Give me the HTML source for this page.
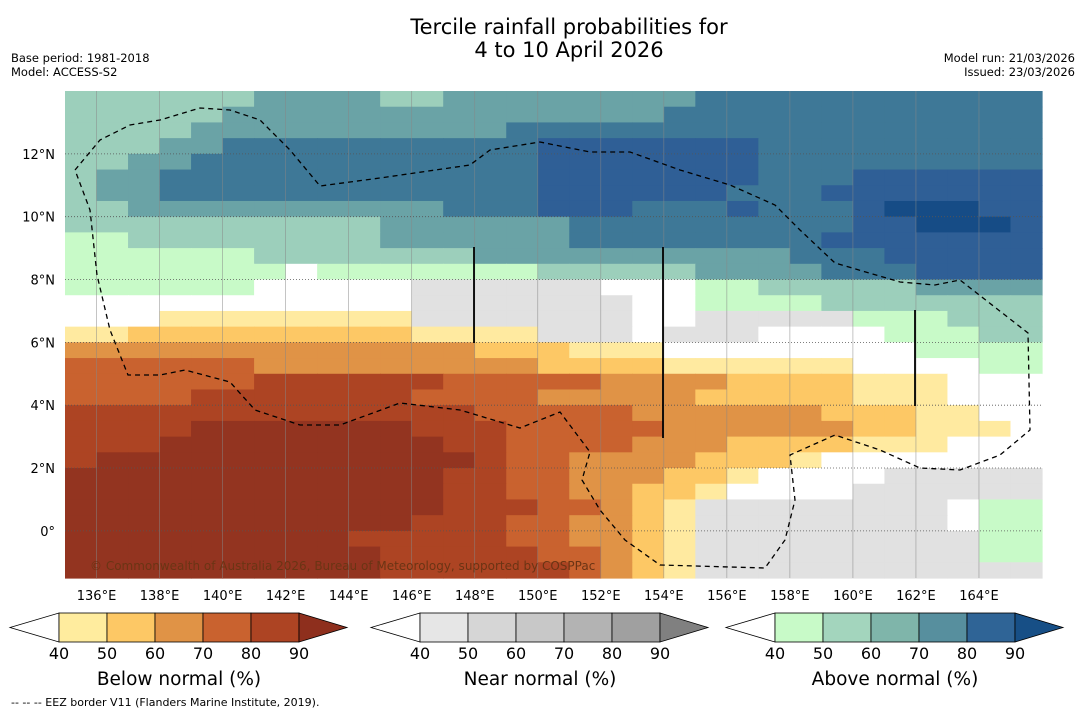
<!DOCTYPE html>
<html><head><meta charset="utf-8">
<style>
body{margin:0;background:#fff;width:1085px;height:713px;overflow:hidden;font-family:"DejaVu Sans","Liberation Sans",sans-serif;}
svg text{font-family:"DejaVu Sans","Liberation Sans",sans-serif;}
</style></head>
<body>
<svg id="chart" width="1085" height="713" xmlns="http://www.w3.org/2000/svg">
<text x="569" y="34" font-size="21" text-anchor="middle">Tercile rainfall probabilities for</text>
<text x="569" y="57" font-size="21" text-anchor="middle">4 to 10 April 2026</text>
<text x="11" y="62" font-size="11.5">Base period: 1981-2018</text>
<text x="11" y="76" font-size="11.5">Model: ACCESS-S2</text>
<text x="1075" y="62" font-size="11.5" text-anchor="end">Model run: 21/03/2026</text>
<text x="1075" y="76" font-size="11.5" text-anchor="end">Issued: 23/03/2026</text>
<g id="cells"></g>
<g id="grid"></g>
<g id="eez"></g>
<g id="axes"></g>
<text x="90" y="570" font-size="12" fill="#6b3414">© Commonwealth of Australia 2026, Bureau of Meteorology, supported by COSPPac</text>
<g id="bars"></g>
<text x="11" y="706" font-size="11">--  --  -- EEZ border V11 (Flanders Marine Institute, 2019).</text>
</svg>
<script>
const lonTicks=[136,138,140,142,144,146,148,150,152,154,156,158,160,162,164];
const latTicks=[0,2,4,6,8,10,12];
const lonStart=135, latTop=14, cellLon=1, cellLat=0.5;
const gridRows=[
"bbbbbbccccbbccccccccddddddddddd",
"bbbbbccccccccccccccdddddddddddd",
"bbbbccccccccccddddddddddddddddd",
"bbbccddddddddddeeeeeeeddddddddd",
"bbccdddddddddddeeeeeeeddddddddd",
"bccddddddddddddeeeeeeedddeeeeee",
"bccddddddddddddeeeeeedddeeeeeee",
"bbccccccccccdddeeedddedddefffee",
"bbbbbbbbbbccccccdddddddddeefffe",
"aabbbbbbbbccccccddddddddeeeeeee",
"aaaaaabbbbbbbccccccccccdddeeeee",
"aaaaaaawaaaaaaabbbbbccccdddeeee",
"aaaaaawwwwwnnnnnnwwwaabbbbbcccc",
"wwwwwwwwwwwnnnnnnnwwaaaabbbbbbb",
"wwwAAAAAAAAnnnnnnnwwnnnnnaaabbb",
"AABBBBBBBBBAAAAnnnwnnnwwwwaaabb",
"CCCCCCCCCCCCCBBBAAAwwwwwwwwaaaa",
"DDDDDDCCCCCCCCCBBBBAAAAAAwwwwaa",
"DDDDDDEEEEEEDDDDDCCCCBBBBAAAwww",
"DDDDEEEEEEEDDDDCCCCCBBBBBAAAwww",
"EEEEEEEEEEEEEDDDDDCCCCCCBBBAAww",
"EEEEFFFFFFFEEEDDDDDCCCCCCBBAAAw",
"EEEFFFFFFFFFEEDDDDCCCBBBBAAAwww",
"EFFFFFFFFFFFFEDDCCCCBBBAwwwwwww",
"FFFFFFFFFFFFEEDDCCCBBAwwwwnnnnn",
"FFFFFFFFFFFFEEDDCCBBAwwwwnnnnnn",
"FFFFFFFFFFFFEEEDDCBAnnnnnnnnwaa",
"FFFFFFFFFFFEEEDDCCBAnnnnnnnnwaa",
"FFFFFFFFFEEEEEDDCCBAnnnnnnnnnaa",
"FFFFFFFFFFEEEEEDDCBAnnnnnnnnnaa",
"FFFFFFFFFFEEEEEEDCBAnnnnnnnnnnn"
];
const belowLabels=[40,50,60,70,80,90];
const colorMap={a:"#c8fac8",b:"#9ccfbb",c:"#6aa3a6",d:"#3e7897",e:"#2f5f96",f:"#164c86",
A:"#ffeaa0",B:"#fdc865",C:"#e09346",D:"#c9622f",E:"#ad4423",F:"#933420",n:"#e1e1e1",w:"#ffffff"};
const X0=65,X1=1042,Y0=91,Y1=578,lonMin=135,lonMax=166,latMax=14,latMin=-1.5;
const xs=l=>X0+(l-lonMin)/(lonMax-lonMin)*(X1-X0);
const ys=l=>Y0+(latMax-l)/(latMax-latMin)*(Y1-Y0);
const NS="http://www.w3.org/2000/svg";
function mk(t,a,p){const e=document.createElementNS(NS,t);for(const k in a)e.setAttribute(k,a[k]);p.appendChild(e);return e;}
const cells=document.getElementById('cells');
gridRows.forEach((row,r)=>{[...row].forEach((ch,c)=>{
 const lo=lonStart+c*cellLon, la=latTop-r*cellLat;
 const x=xs(lo),y=ys(la),w=xs(lo+cellLon)-x,h=ys(la-cellLat)-y;
 const el=mk('rect',{x:x,y:y,width:w+0.6,height:h+0.6,fill:colorMap[ch]},cells);
 
 
});});
const grid=document.getElementById('grid'), axes=document.getElementById('axes');
lonTicks.forEach(l=>{
 const g=mk('line',{x1:xs(l),x2:xs(l),y1:Y0,y2:Y1,stroke:"#888",'stroke-width':0.7,'stroke-opacity':0.7},grid);
 
 
 const t=mk('text',{x:xs(l),y:600,'font-size':13,'text-anchor':'middle'},axes);t.textContent=l+'°E';
 
 
});
latTicks.forEach(l=>{
 const g=mk('line',{x1:X0,x2:X1,y1:ys(l),y2:ys(l),stroke:"#555",'stroke-width':0.8,'stroke-dasharray':'1,2'},grid);
 
 
 const t=mk('text',{x:55,y:ys(l)+5,'font-size':13,'text-anchor':'end'},axes);t.textContent=l===0?'0°':l+'°N';
 
 
});
const eez=document.getElementById('eez');
const pts="75,170 100,140 130,125 160,120 200,108 230,110 260,120 290,150 320,186 380,178 470,165 490,150 540,142 590,152 630,152 680,170 730,185 775,205 800,230 835,263 900,282 935,285 960,280 1028,333 1030,430 1000,455 960,470 920,468 880,450 835,435 790,455 795,500 785,540 765,568 660,565 625,540 600,510 582,480 590,452 560,412 520,428 460,410 400,403 340,425 300,425 255,410 230,382 185,370 160,375 128,375 110,330 97,275 90,210 75,170";
const pl=mk('polyline',{points:pts,fill:'none',stroke:'#000','stroke-width':1.3,'stroke-dasharray':'5,4'},eez);


[[474,247,343],[663,247,438],[915,310,406]].forEach(s=>{
 const l=mk('line',{x1:s[0],x2:s[0],y1:s[1],y2:s[2],stroke:'#000','stroke-width':1.8},eez);
 
 
});
const bars=document.getElementById('bars');
const barDefs=[
 {x:59,title:'Below normal (%)',cols:["#ffec9e","#fdc865","#e09346","#c9622f","#ad4423"],lo:"#ffffff",hi:"#8e2f1d",name:'below-normal-colorbar'},
 {x:420,title:'Near normal (%)',cols:["#e6e6e6","#d6d6d6","#c8c8c8","#b3b3b3","#a0a0a0"],lo:"#ffffff",hi:"#808080",name:'near-normal-colorbar'},
 {x:775,title:'Above normal (%)',cols:["#c8fac8","#a3d5bd","#7fb5aa","#578f9e","#2f6496"],lo:"#ffffff",hi:"#174f86",name:'above-normal-colorbar'}];
barDefs.forEach(b=>{
 const g=mk('g',{},bars);
 
 
 const W=48,yT=613,yB=642,ym=627.5;
 mk('polygon',{points:`${b.x-49},${ym} ${b.x},${yT} ${b.x},${yB}`,fill:b.lo,stroke:'#000','stroke-width':0.8},g);
 b.cols.forEach((c,i)=>mk('rect',{x:b.x+i*W,y:yT,width:W,height:yB-yT,fill:c,stroke:'#000','stroke-width':0.8},g));
 const xe=b.x+5*W;
 mk('polygon',{points:`${xe},${yT} ${xe+48},${ym} ${xe},${yB}`,fill:b.hi,stroke:'#000','stroke-width':0.8},g);
 belowLabels.forEach((v,i)=>{const t=mk('text',{x:b.x+i*W,y:659,'font-size':16,'text-anchor':'middle'},g);t.textContent=v;});
 const t=mk('text',{x:b.x+2.5*W,y:685,'font-size':18.5,'text-anchor':'middle'},g);t.textContent=b.title;
});
</script>
</body></html>
